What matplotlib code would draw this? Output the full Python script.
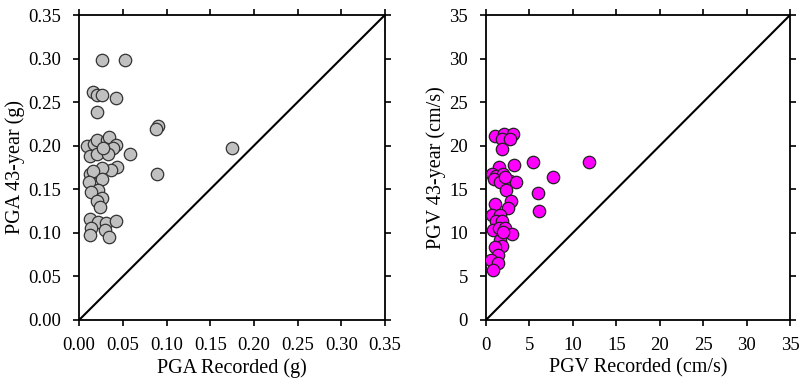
import matplotlib.pyplot as plt
import numpy as np

plt.rcParams['font.family'] = ['Liberation Serif', 'DejaVu Serif']

# PGA (g)
pga_rec = [0.0257, 0.0525, 0.0154, 0.020, 0.0264, 0.042, 0.020, 0.0907, 0.088,
           0.009, 0.0169, 0.020, 0.0315, 0.034, 0.042, 0.039, 0.0123, 0.020,
           0.033, 0.058, 0.0276, 0.043, 0.037, 0.0257, 0.0123, 0.016, 0.0257,
           0.0115, 0.022, 0.013, 0.026, 0.020, 0.024, 0.0896, 0.0123, 0.021,
           0.0306, 0.042, 0.014, 0.0123, 0.0295, 0.0345, 0.175]
pga_43 = [0.298, 0.298, 0.262, 0.258, 0.258, 0.255, 0.239, 0.223, 0.219,
          0.200, 0.2015, 0.206, 0.206, 0.210, 0.201, 0.197, 0.188, 0.191,
          0.190, 0.191, 0.197, 0.176, 0.172, 0.174, 0.168, 0.171, 0.162,
          0.158, 0.149, 0.147, 0.140, 0.136, 0.130, 0.167, 0.116, 0.112,
          0.111, 0.114, 0.106, 0.097, 0.103, 0.095, 0.197]

# PGV (cm/s)
pgv_rec = [1.04, 2.1, 3.15, 1.9, 2.8, 1.9, 5.45, 11.8, 3.2, 1.5, 0.65, 1.2,
           2.0, 0.9, 1.6, 2.76, 3.5, 2.2, 7.75, 2.3, 5.95, 1.04, 2.84, 2.57,
           6.1, 0.65, 1.6, 1.15, 1.9, 0.77, 1.5, 2.2, 2.96, 1.6, 1.8, 1.04,
           1.4, 0.54, 1.4, 0.84, 2.0]
pgv_43 = [21.15, 21.3, 21.35, 20.8, 20.8, 19.6, 18.15, 18.1, 17.8, 17.5, 16.7,
          16.5, 16.7, 16.2, 15.8, 15.95, 15.85, 16.35, 16.35, 14.9, 14.6, 13.3,
          13.65, 12.9, 12.5, 12.0, 12.0, 11.3, 11.3, 10.3, 10.5, 10.6, 9.9,
          9.2, 8.45, 8.35, 7.5, 6.9, 6.5, 5.7, 10.1]

fig = plt.figure(figsize=(8.12, 3.85), dpi=100)
ax1 = fig.add_axes([0.0975, 0.169, 0.3765, 0.792])
ax2 = fig.add_axes([0.5985, 0.169, 0.3745, 0.792])

ax1.scatter(pga_rec, pga_43, s=80, c='#c0c0c0', edgecolors='#333333', linewidths=0.9, zorder=3)
ax1.plot([0, 0.35], [0, 0.35], color='black', lw=1.5)
ax1.set_xlim(0, 0.35)
ax1.set_ylim(0, 0.35)
ticks1 = np.arange(0, 0.351, 0.05)
ax1.set_xticks(ticks1)
ax1.set_yticks(ticks1)
ax1.set_xticklabels([f'{t:.2f}' for t in ticks1])
ax1.set_yticklabels([f'{t:.2f}' for t in ticks1])
ax1.set_xlabel('PGA Recorded (g)', fontsize=14.5, labelpad=3)
ax1.set_ylabel('PGA 43-year (g)', fontsize=14.5, labelpad=2)

ax2.scatter(pgv_rec, pgv_43, s=80, c='#ff00ff', edgecolors='#222222', linewidths=0.9, zorder=3)
ax2.plot([0, 35], [0, 35], color='black', lw=1.5)
ax2.set_xlim(0, 35)
ax2.set_ylim(0, 35)
ticks2 = np.arange(0, 36, 5)
ax2.set_xticks(ticks2)
ax2.set_yticks(ticks2)
ax2.set_xlabel('PGV Recorded (cm/s)', fontsize=14.5, labelpad=3)
ax2.set_ylabel('PGV 43-year (cm/s)', fontsize=14.5, labelpad=2)

for ax in (ax1, ax2):
    ax.tick_params(labelsize=13.5, direction='out', length=4, width=1.2,
                   top=True, right=True)
    ax.tick_params(axis='x', pad=8)
    ax.tick_params(axis='y', pad=9)
    for sp in ax.spines.values():
        sp.set_linewidth(1.3)

fig.savefig('out.png', dpi=100)
